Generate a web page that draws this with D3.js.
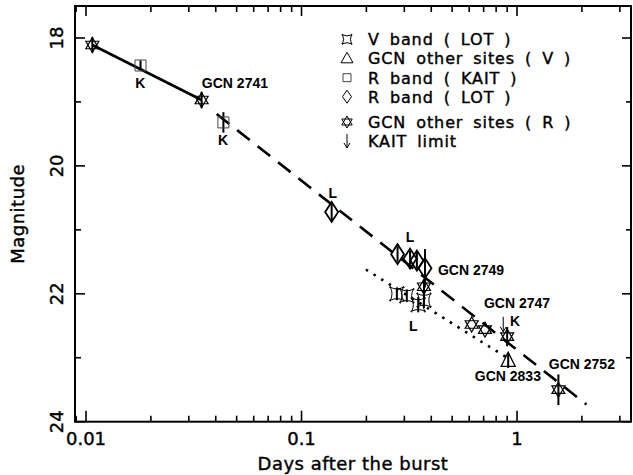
<!DOCTYPE html>
<html>
<head>
<meta charset="utf-8">
<script src="https://cdn.jsdelivr.net/npm/d3@7"></script>
<style>
  body { margin: 0; background: #fff; }
  text { fill: #000; }
  .lab { font-family: "DejaVu Sans", sans-serif; font-size: 18px; stroke: #000; stroke-width: 0.4px; }
  .leg { font-family: "DejaVu Sans", sans-serif; font-size: 16px; letter-spacing: 0.9px; word-spacing: 4px; stroke: #000; stroke-width: 0.4px; }
  .note { font-family: "Liberation Sans", Arial, sans-serif; font-size: 14px; font-weight: bold; }
</style>
</head>
<body>
<div id="svg-container"></div>
<script>
// data (days after burst, magnitude, error)
const vLotDays = [0.277, 0.308, 0.348, 0.37];
const vLotMag = [22.0, 22.03, 22.17, 22.1];
const vLotErr = [0.1, 0.1, 0.12, 0.12];

const gcnVDays = [0.91];
const gcnVMag = [23.04];
const gcnVErr = [0.12];

const kaitDays = [0.0179, 0.0434];
const kaitMag = [18.43, 19.32];
const kaitErr = [0.08, 0.16];

const lotRDays = [0.138, 0.279, 0.319, 0.343, 0.374];
const lotRMag = [20.72, 21.38, 21.45, 21.48, 21.6];
const lotRErr = [0.15, 0.12, 0.12, 0.12, 0.3];

const gcnRDays = [0.0107, 0.0344, 0.37, 0.616, 0.71, 0.90, 1.556];
const gcnRMag = [18.11, 18.97, 21.89, 22.48, 22.56, 22.67, 23.5];
const gcnRErr = [0.12, 0.13, 0.12, 0, 0, 0.15, 0.24];

const limitDays = [0.863];
const limitMag = [22.36];

// power-law fits (end points)
const earlyFit = [[0.0107, 18.11], [0.0344, 18.97]];
const lateRFit = [[0.0404, 19.19], [2.1, 23.73]];
const lateVFit = [[0.199, 21.62], [0.9, 23.0]];

const notes = [
    { t: 0.01787, m: 18.70, text: 'K' },
    { t: 0.0491, m: 18.70, text: 'GCN 2741' },
    { t: 0.0433, m: 19.60, text: 'K' },
    { t: 0.1395, m: 20.42, text: 'L' },
    { t: 0.319, m: 21.11, text: 'L' },
    { t: 0.612, m: 21.62, text: 'GCN 2749' },
    { t: 0.330, m: 22.51, text: 'L' },
    { t: 1.0, m: 22.15, text: 'GCN 2747' },
    { t: 0.979, m: 22.42, text: 'K' },
    { t: 0.907, m: 23.28, text: 'GCN 2833' },
    { t: 2.0, m: 23.09, text: 'GCN 2752' }
];

const legendLabels = ['V band ( LOT )', 'GCN other sites ( V )', 'R band ( KAIT )',
    'R band ( LOT )', 'GCN other sites ( R )', 'KAIT limit'];
const legendKeys = ['vlot', 'gcnv', 'kait', 'lotr', 'gcnr', 'limit'];

const xMajor = [0.01, 0.1, 1];
const yMajor = [18, 20, 22, 24];
const yMinor = [19, 21, 23];

// dimensions
const dim = { width: 633, height: 475, left: 75, top: 6, right: 631, bottom: 421.7 };

const svg = d3.select('#svg-container')
    .append('svg')
    .attr('width', dim.width)
    .attr('height', dim.height);

const x = d3.scaleLog().domain([0.00889, 3.38]).range([dim.left, dim.right]);
const y = d3.scaleLinear().domain([17.5, 24]).range([dim.top, dim.bottom]);

// marker shapes
function hexagram(r) {
    const a = r * 0.866, b = r / 2;
    return `M0,${-r}L${a},${b}L${-a},${b}ZM0,${r}L${a},${-b}L${-a},${-b}Z`;
}
function diamond(w, h) {
    return `M0,${-h}L${w},0L0,${h}L${-w},0Z`;
}
function concaveSquare(s) {
    const c = s * 0.5, e = s * 1.2;
    return `M${-s},${-s}Q0,${-c} ${s},${-s}Q${c},0 ${s},${s}Q0,${c} ${-s},${s}Q${-c},0 ${-s},${-s}Z` +
        `M${-e},${-s}L${-s},${-s}L${-s},${-e}M${e},${-s}L${s},${-s}L${s},${-e}` +
        `M${-e},${s}L${-s},${s}L${-s},${e}M${e},${s}L${s},${s}L${s},${e}`;
}
function square(s) {
    return `M${-s},${-s}H${s}V${s}H${-s}Z`;
}
function triangle(w, h) {
    return `M0,${-h}L${w},${h * 0.75}L${-w},${h * 0.75}Z`;
}

// ticks (inward on all four sides)
const minorX = x.ticks().filter(d => !xMajor.some(m => Math.abs(m - d) < 1e-9));

function tickLines(g, vals, len, side) {
    g.selectAll(null).data(vals).join('line')
        .attr('stroke', '#000').attr('stroke-width', 1.6)
        .each(function (d) {
            const s = d3.select(this);
            if (side === 'bottom') s.attr('x1', x(d)).attr('x2', x(d)).attr('y1', dim.bottom).attr('y2', dim.bottom - len);
            if (side === 'top') s.attr('x1', x(d)).attr('x2', x(d)).attr('y1', dim.top).attr('y2', dim.top + len);
            if (side === 'left') s.attr('y1', y(d)).attr('y2', y(d)).attr('x1', dim.left).attr('x2', dim.left + len);
            if (side === 'right') s.attr('y1', y(d)).attr('y2', y(d)).attr('x1', dim.right).attr('x2', dim.right - len);
        });
}
const axes = svg.append('g');
tickLines(axes, xMajor, 11, 'bottom');
tickLines(axes, minorX, 6, 'bottom');
tickLines(axes, xMajor, 10, 'top');
tickLines(axes, minorX, 6, 'top');
tickLines(axes, yMajor, 10, 'left');
tickLines(axes, yMinor, 6, 'left');
tickLines(axes, yMajor, 9, 'right');
tickLines(axes, yMinor, 5, 'right');

axes.append('rect')
    .attr('x', dim.left).attr('y', dim.top)
    .attr('width', dim.right - dim.left).attr('height', dim.bottom - dim.top)
    .attr('fill', 'none').attr('stroke', '#000').attr('stroke-width', 2);

axes.selectAll('.xl').data(xMajor).join('text')
    .attr('class', 'lab')
    .attr('x', d => x(d)).attr('y', 445)
    .attr('text-anchor', 'middle')
    .text(d => d3.format('~g')(d));

axes.selectAll('.yl').data(yMajor).join('text')
    .attr('class', 'lab')
    .attr('transform', d => `translate(63,${y(d)}) rotate(-90)`)
    .attr('text-anchor', 'middle')
    .text(d => d);

svg.append('text').attr('class', 'lab')
    .attr('x', (dim.left + dim.right) / 2).attr('y', 470)
    .attr('text-anchor', 'middle').style('letter-spacing', '0.5px')
    .text('Days after the burst');

svg.append('text').attr('class', 'lab')
    .attr('transform', `translate(24,${(dim.top + dim.bottom) / 2}) rotate(-90)`)
    .attr('text-anchor', 'middle').style('letter-spacing', '0.5px')
    .text('Magnitude');

// fit lines
const line = d3.line().x(d => x(d[0])).y(d => y(d[1]));
const fits = svg.append('g').attr('fill', 'none').attr('stroke', '#000');
fits.append('path').attr('d', line(earlyFit)).attr('stroke-width', 2.6);
fits.append('path').attr('d', line(lateRFit)).attr('stroke-width', 2.6).attr('stroke-dasharray', '16,10');
fits.append('path').attr('d', line(lateVFit)).attr('stroke-width', 2.6).attr('stroke-dasharray', '2.5,6.5');

// points
function series(days, mags, errs, shape, sw, color) {
    const pts = days.map((t, i) => ({ t, m: mags[i], e: errs[i] }));
    const g = svg.append('g');
    g.selectAll('line').data(pts.filter(d => d.e > 0)).join('line')
        .attr('x1', d => x(d.t)).attr('x2', d => x(d.t))
        .attr('y1', d => y(d.m - d.e)).attr('y2', d => y(d.m + d.e))
        .attr('stroke', '#000').attr('stroke-width', 2);
    g.selectAll('path').data(pts).join('path')
        .attr('transform', d => `translate(${x(d.t)},${y(d.m)})`)
        .attr('d', shape)
        .attr('fill', 'none').attr('stroke', color || '#000').attr('stroke-width', sw);
}
series(vLotDays, vLotMag, vLotErr, concaveSquare(6.5), 1);
series(gcnVDays, gcnVMag, gcnVErr, triangle(7, 8), 1.3);
series(kaitDays, kaitMag, kaitErr, square(5.5), 1, '#444');
series(lotRDays, lotRMag, lotRErr, diamond(6.5, 10), 1.8);
series(gcnRDays, gcnRMag, gcnRErr, hexagram(7.5), 1.2);

// KAIT limit arrows
const arrows = svg.append('g').attr('stroke', '#000').attr('fill', 'none').attr('stroke-width', 1);
limitDays.forEach((t, i) => {
    const px = x(t), py = y(limitMag[i]);
    arrows.append('path').attr('d', `M${px},${py}V${py + 15}M${px - 3},${py + 10}L${px},${py + 15}L${px + 3},${py + 10}`);
});

// annotations
svg.append('g').selectAll('text').data(notes).join('text')
    .attr('class', 'note')
    .attr('x', d => x(d.t)).attr('y', d => y(d.m))
    .attr('dy', '0.36em')
    .attr('text-anchor', 'middle')
    .text(d => d.text);

// legend
const legendShapes = {
    vlot: concaveSquare(4.5),
    gcnv: triangle(6, 6),
    kait: square(4),
    lotr: diamond(4.5, 6.5),
    gcnr: hexagram(6),
    limit: 'M0,-7V7M-3,2L0,7L3,2'
};
const legend = svg.append('g').attr('transform', 'translate(347,0)');
const rowY = [39.3, 58.3, 77.7, 96.7, 122, 141];
legendKeys.forEach((k, i) => {
    legend.append('path')
        .attr('transform', `translate(0,${rowY[i]})`)
        .attr('d', legendShapes[k])
        .attr('fill', 'none')
        .attr('stroke', k === 'kait' ? '#444' : '#000')
        .attr('stroke-width', 1);
    legend.append('text')
        .attr('class', 'leg')
        .attr('x', 21).attr('y', rowY[i] + 6)
        .text(legendLabels[i]);
});
</script>
</body>
</html>
